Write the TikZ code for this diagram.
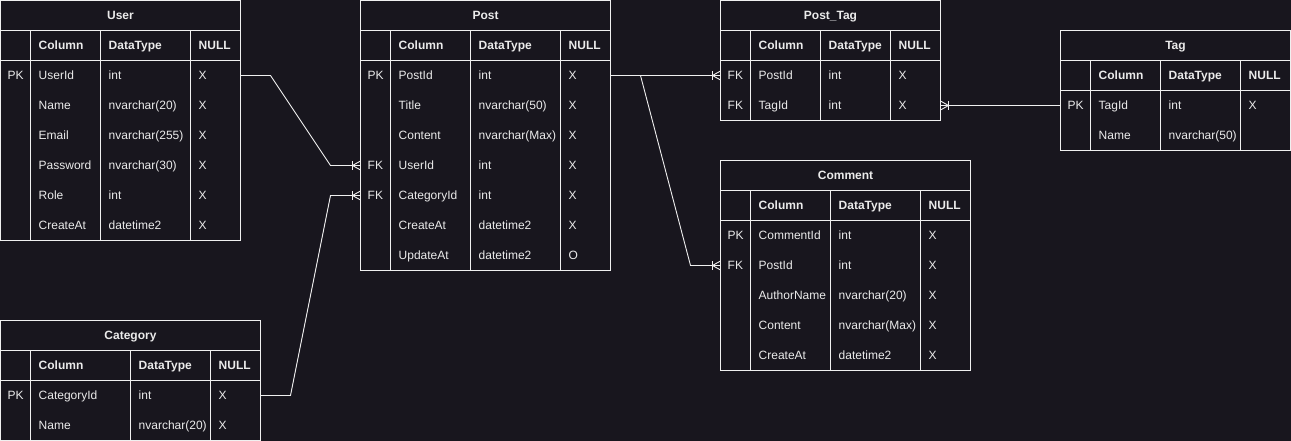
\documentclass[tikz,border=0pt]{standalone}
\usepackage{fontspec}
\setmainfont{Liberation Sans}
\usetikzlibrary{calc}
\definecolor{bgc}{HTML}{18161E}
\definecolor{linec}{HTML}{F0F0F0}
\definecolor{txtc}{HTML}{EBEBEB}
\tikzset{
  tline/.style={draw=linec, line width=1pt},
  rel/.style={draw=linec, line width=0.9pt},
  ttl/.style={font=\fontsize{12}{14}\selectfont\bfseries, text=txtc, inner sep=0pt, anchor=base},
  hdr/.style={font=\fontsize{12}{14}\selectfont\bfseries, text=txtc, inner sep=0pt, anchor=base west},
  cell/.style={font=\fontsize{12}{14}\selectfont, text=txtc, inner sep=0pt, anchor=base west},
}
\def\ersplit#1/#2/#3/#4\relax{\def\erwA{#1}\def\erwB{#2}\def\erwC{#3}\def\erwD{#4}}
% #1 name, #2 x, #3 y, #4 widths, #5 title, #6 number of rows
\newcommand\ertable[6]{%
  \ersplit#4\relax
  \pgfmathsetmacro\erxa{#2}\pgfmathsetmacro\erxb{\erxa+\erwA}\pgfmathsetmacro\erxc{\erxb+\erwB}%
  \pgfmathsetmacro\erxd{\erxc+\erwC}\pgfmathsetmacro\erxe{\erxd+\erwD}%
  \pgfmathsetmacro\erya{#3}\pgfmathsetmacro\eryb{\erya+30}\pgfmathsetmacro\eryc{\erya+60}%
  \pgfmathsetmacro\erye{\erya+60+30*#6}%
  \def\tname{#1}%
  \fill[bgc] (\erxa,\erya) rectangle (\erxe,\erye);
  \draw[tline] (\erxa,\erya) rectangle (\erxe,\erye);
  \draw[tline] (\erxa,\eryb) -- (\erxe,\eryb) (\erxa,\eryc) -- (\erxe,\eryc);
  \draw[tline] (\erxb,\eryb) -- (\erxb,\erye) (\erxc,\eryb) -- (\erxc,\erye) (\erxd,\eryb) -- (\erxd,\erye);
  \node[ttl] (#1) at ({(\erxa+\erxe)/2},\erya+19.3) {#5};
  \node[hdr] (#1-hc) at (\erxb+8,\erya+49.3) {Column};
  \node[hdr] (#1-ht) at (\erxc+8,\erya+49.3) {DataType};
  \node[hdr] (#1-hn) at (\erxd+8,\erya+49.3) {NULL};
}
% #1 row index, #2 key, #3 column, #4 type, #5 null
\newcommand\errow[5]{%
  \pgfmathsetmacro\eryy{\eryc+30*#1-15}%
  \coordinate (\tname-r#1-w) at (\erxa,\eryy);
  \coordinate (\tname-r#1-e) at (\erxe,\eryy);
  \node[cell] (\tname-r#1-k) at (\erxa+7,\eryy+4.3) {#2};
  \node[cell] (\tname-r#1-c) at (\erxb+8,\eryy+4.3) {#3};
  \node[cell] (\tname-r#1-t) at (\erxc+8,\eryy+4.3) {#4};
  \node[cell] (\tname-r#1-n) at (\erxd+8,\eryy+4.3) {#5};
}
% crow's foot (mandatory many); #1 coordinate, #2 direction (+1: table to the right)
\newcommand\crow[2]{%
  \draw[rel] ($(#1)+({-8*(#2)},-4.5)$) -- ($(#1)+({-8*(#2)},4.5)$);
  \draw[rel] ($(#1)+({-8*(#2)},0)$) -- ($(#1)+(0,-4.5)$);
  \draw[rel] ($(#1)+({-8*(#2)},0)$) -- ($(#1)+(0,4.5)$);
}
\begin{document}
\begin{tikzpicture}[x=1pt,y=-1pt]
\fill[bgc] (0,0) rectangle (1291,441);
\useasboundingbox (0,0) rectangle (1291,441);

\ertable{user}{0.5}{0.5}{30/70/90/50}{User}{6}
\errow{1}{PK}{UserId}{int}{X}
\errow{2}{}{Name}{nvarchar(20)}{X}
\errow{3}{}{Email}{nvarchar(255)}{X}
\errow{4}{}{Password}{nvarchar(30)}{X}
\errow{5}{}{Role}{int}{X}
\errow{6}{}{CreateAt}{datetime2}{X}

\ertable{post}{360.5}{0.5}{30/80/90/50}{Post}{7}
\errow{1}{PK}{PostId}{int}{X}
\errow{2}{}{Title}{nvarchar(50)}{X}
\errow{3}{}{Content}{nvarchar(Max)}{X}
\errow{4}{FK}{UserId}{int}{X}
\errow{5}{FK}{CategoryId}{int}{X}
\errow{6}{}{CreateAt}{datetime2}{X}
\errow{7}{}{UpdateAt}{datetime2}{O}

\ertable{ptag}{720.5}{0.5}{30/70/70/50}{Post\_Tag}{2}
\errow{1}{FK}{PostId}{int}{X}
\errow{2}{FK}{TagId}{int}{X}

\ertable{tag}{1060.5}{30.5}{30/70/80/50}{Tag}{2}
\errow{1}{PK}{TagId}{int}{X}
\errow{2}{}{Name}{nvarchar(50)}{}

\ertable{comment}{720.5}{160.5}{30/80/90/50}{Comment}{5}
\errow{1}{PK}{CommentId}{int}{X}
\errow{2}{FK}{PostId}{int}{X}
\errow{3}{}{AuthorName}{nvarchar(20)}{X}
\errow{4}{}{Content}{nvarchar(Max)}{X}
\errow{5}{}{CreateAt}{datetime2}{X}

\ertable{category}{0.5}{320.5}{30/100/80/50}{Category}{2}
\errow{1}{PK}{CategoryId}{int}{X}
\errow{2}{}{Name}{nvarchar(20)}{X}

% connectors
\draw[rel] (user-r1-e) -- ++(30,0) -- ($(post-r4-w)+(-30,0)$) -- (post-r4-w);
\crow{post-r4-w}{1}
\draw[rel] (category-r1-e) -- ++(30,0) -- ($(post-r5-w)+(-30,0)$) -- (post-r5-w);
\crow{post-r5-w}{1}
\draw[rel] (post-r1-e) -- (ptag-r1-w);
\crow{ptag-r1-w}{1}
\draw[rel] (post-r1-e) -- ++(30,0) -- ($(comment-r2-w)+(-30,0)$) -- (comment-r2-w);
\crow{comment-r2-w}{1}
\draw[rel] (tag-r1-w) -- (ptag-r2-e);
\crow{ptag-r2-e}{-1}
\end{tikzpicture}
\end{document}
